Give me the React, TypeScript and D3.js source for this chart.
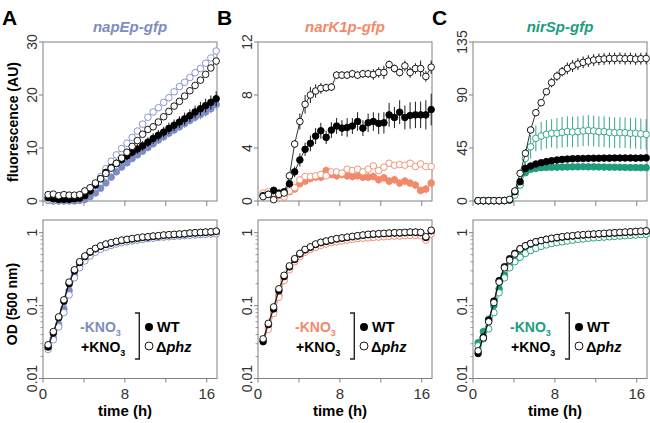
import React from 'react';
import * as d3 from 'd3';

// ---------- data ----------
const times = [0.50, 1.01, 1.53, 2.04, 2.55, 3.07, 3.58, 4.09, 4.60, 5.12, 5.63, 6.14, 6.66, 7.17, 7.68, 8.20, 8.71, 9.22, 9.73, 10.25, 10.76, 11.27, 11.79, 12.30, 12.81, 13.33, 13.84, 14.35, 14.86, 15.38, 15.89, 16.40, 16.92];

const xTicks = [0, 4, 8, 12, 16];
const xTickLabels = ['0', '8', '16'];
const odTicks = [0.01, 0.1, 1];
const odTickLabels = ['0.01', '0.1', '1'];

const panelLetters = ['A', 'B', 'C'];
const panelTitles = ['napEp-gfp', 'narK1p-gfp', 'nirSp-gfp'];
const panelColors = ['#7d8cc2', '#f2896b', '#1d9c7e'];
const fluMax = [30, 12, 135];
const fluTicks = [[0, 10, 20, 30], [0, 4, 8, 12], [0, 45, 90, 135]];

// Panel A fluorescence
const aFluWtMinus = [0.1, 0.0, 0.0, 0.0, 0.0, 0.0, 0.1, 0.3, 0.8, 1.5, 2.4, 3.4, 4.5, 5.5, 6.4, 7.2, 8.0, 8.7, 9.4, 10.1, 10.8, 11.5, 12.1, 12.8, 13.4, 14.0, 14.6, 15.2, 15.8, 16.3, 16.8, 17.4, 18.2];
const aFluPhzMinus = [0.2, 0.1, 0.1, 0.1, 0.1, 0.2, 0.3, 0.9, 2.0, 3.2, 4.6, 6.1, 7.5, 8.7, 9.9, 10.9, 12.0, 13.2, 14.5, 15.8, 16.8, 17.6, 18.6, 19.5, 20.6, 21.6, 22.4, 23.3, 24.2, 25.0, 26.0, 27.0, 28.3];
const aFluWtPlus = [0.6, 0.4, 0.3, 0.3, 0.3, 0.4, 0.5, 1.0, 1.9, 3.0, 4.2, 5.4, 6.3, 7.1, 7.8, 8.5, 9.2, 9.8, 10.4, 11.1, 11.8, 12.4, 13.0, 13.7, 14.3, 14.9, 15.5, 16.1, 16.8, 17.4, 18.0, 18.6, 19.3];
const aFluPhzPlus = [1.2, 1.3, 1.0, 1.2, 1.1, 1.1, 1.2, 1.9, 2.5, 3.4, 4.2, 5.2, 6.2, 7.1, 8.1, 9.2, 10.3, 11.4, 12.6, 13.5, 14.0, 14.9, 15.9, 16.9, 17.9, 18.8, 19.8, 20.8, 21.8, 22.8, 23.9, 25.1, 26.4];
const aFluWtMinusErr = [0.1, 0.1, 0.1, 0.1, 0.1, 0.1, 0.1, 0.2, 0.3, 0.3, 0.4, 0.4, 0.5, 0.5, 0.5, 0.6, 0.6, 0.6, 0.6, 0.7, 0.7, 0.7, 0.7, 0.8, 0.8, 0.8, 0.8, 0.8, 0.9, 0.9, 0.9, 0.9, 1.0];
const aFluPhzMinusErr = [0.1, 0.1, 0.1, 0.1, 0.1, 0.1, 0.1, 0.2, 0.2, 0.2, 0.3, 0.3, 0.3, 0.3, 0.3, 0.3, 0.3, 0.3, 0.3, 0.3, 0.3, 0.3, 0.3, 0.3, 0.3, 0.3, 0.3, 0.3, 0.3, 0.3, 0.3, 0.3, 0.3];
const aFluWtPlusErr = [0.2, 0.2, 0.2, 0.2, 0.2, 0.2, 0.2, 0.3, 0.4, 0.5, 0.6, 0.6, 0.7, 0.7, 0.8, 0.8, 0.8, 0.9, 0.9, 0.9, 1.0, 1.0, 1.0, 1.1, 1.1, 1.1, 1.2, 1.2, 1.2, 1.3, 1.3, 1.3, 1.4];
const aFluPhzPlusErr = [0.1, 0.1, 0.1, 0.1, 0.1, 0.1, 0.1, 0.2, 0.2, 0.2, 0.2, 0.2, 0.2, 0.2, 0.2, 0.2, 0.2, 0.2, 0.2, 0.2, 0.2, 0.2, 0.2, 0.2, 0.2, 0.2, 0.2, 0.2, 0.2, 0.2, 0.2, 0.2, 0.2];

// Panel B fluorescence
const bFluWtMinus = [0.5, 0.6, 0.5, 0.4, 0.5, 0.7, 0.9, 1.3, 1.5, 1.7, 1.8, 1.8, 2.3, 2.0, 1.9, 2.0, 1.9, 1.85, 1.9, 1.8, 1.8, 1.85, 1.6, 1.75, 1.5, 1.6, 1.35, 1.5, 1.35, 1.2, 0.8, 0.9, 1.35];
const bFluPhzMinus = [0.6, 0.7, 0.6, 0.5, 0.3, 0.75, 1.0, 1.6, 1.85, 1.85, 1.9, 2.0, 1.9, 2.2, 2.2, 2.1, 2.4, 2.3, 2.4, 2.2, 2.4, 2.65, 2.3, 2.55, 2.85, 2.7, 2.75, 2.7, 2.85, 2.6, 2.8, 2.6, 2.6];
const bFluWtPlus = [0.4, 0.5, 0.8, 0.6, 0.7, 1.3, 2.2, 3.1, 3.9, 4.35, 4.9, 5.3, 4.8, 5.35, 5.66, 5.5, 5.55, 5.66, 6.0, 5.5, 5.9, 6.0, 5.85, 5.9, 6.5, 6.3, 6.7, 6.3, 6.45, 6.5, 6.5, 6.5, 6.9];
const bFluPhzPlus = [0.33, 0.5, 0.1, 0.5, 0.6, 1.9, 4.3, 6.0, 7.3, 8.0, 8.3, 8.5, 8.55, 8.6, 9.5, 9.5, 9.5, 9.6, 9.5, 9.6, 9.6, 9.55, 9.7, 9.7, 10.3, 10.0, 9.7, 10.2, 9.7, 10.0, 10.0, 9.4, 10.1];
const bFluWtMinusErr = [0.2, 0.2, 0.2, 0.2, 0.2, 0.2, 0.2, 0.3, 0.3, 0.3, 0.3, 0.3, 0.3, 0.3, 0.3, 0.3, 0.3, 0.3, 0.3, 0.3, 0.3, 0.3, 0.3, 0.3, 0.3, 0.3, 0.3, 0.3, 0.3, 0.3, 0.3, 0.3, 0.3];
const bFluPhzMinusErr = [0.2, 0.2, 0.2, 0.2, 0.2, 0.2, 0.2, 0.2, 0.2, 0.2, 0.2, 0.2, 0.2, 0.2, 0.2, 0.2, 0.2, 0.2, 0.2, 0.2, 0.2, 0.2, 0.2, 0.2, 0.2, 0.2, 0.2, 0.2, 0.2, 0.2, 0.2, 0.2, 0.2];
const bFluWtPlusErr = [0.2, 0.2, 0.3, 0.2, 0.2, 0.3, 0.4, 0.5, 0.5, 0.6, 0.6, 0.6, 0.5, 0.6, 0.6, 0.6, 0.7, 0.6, 0.7, 0.6, 0.7, 0.7, 0.8, 0.8, 0.9, 0.8, 0.9, 0.9, 1.0, 1.0, 1.0, 1.1, 1.2];
const bFluPhzPlusErr = [0.1, 0.1, 0.1, 0.1, 0.1, 0.2, 0.3, 0.6, 0.7, 0.6, 0.5, 0.4, 0.3, 0.3, 0.3, 0.3, 0.3, 0.3, 0.3, 0.3, 0.3, 0.4, 0.4, 0.5, 0.3, 0.3, 0.3, 0.4, 0.4, 0.4, 0.6, 0.4, 0.5];

// Panel C fluorescence
const cFluWtMinus = [0.2, 0.2, 0.2, 0.2, 0.2, 0.3, 0.8, 6, 14, 24, 26.9, 27.7, 28.3, 28.5, 28.6, 28.7, 28.8, 28.9, 29.0, 29.0, 29.1, 29.0, 29.0, 28.9, 28.8, 28.7, 28.7, 28.6, 28.5, 28.4, 28.4, 28.3, 28.3];
const cFluPhzMinus = [0.2, 0.2, 0.2, 0.2, 0.2, 0.3, 0.7, 5, 13.6, 36.2, 46, 53.2, 55.2, 56.6, 57.5, 57.5, 58.3, 58.9, 58.6, 58.9, 59.5, 59.8, 59.5, 58.9, 58.9, 58.3, 58.0, 58.0, 58.0, 57.5, 57.5, 57.0, 56.6];
const cFluWtPlus = [0.3, 0.3, 0.3, 0.3, 0.3, 0.4, 1.0, 7.9, 16.4, 27.7, 29.7, 31.4, 32.5, 33.4, 34.2, 34.8, 35.3, 35.6, 35.9, 36.0, 36.1, 36.2, 36.3, 36.3, 36.4, 36.4, 36.5, 36.5, 36.5, 36.5, 36.4, 36.5, 36.6];
const cFluPhzPlus = [0.3, 0.3, 0.3, 0.3, 0.3, 0.4, 1.4, 8.5, 23.5, 40.5, 60.3, 75, 83.5, 92.8, 100.5, 106, 109.8, 112.6, 114.6, 116.3, 117.7, 118.8, 119.7, 120.3, 120.6, 121, 121, 121.2, 120.8, 121, 120.5, 120.8, 121];
const cFluWtMinusErr = [0, 0, 0, 0, 0, 0, 0.3, 0.5, 1, 1, 1, 1, 1, 1, 1, 1, 1, 1, 1, 1, 1, 1, 1, 1, 1, 1, 1, 1, 1, 1, 1, 1, 1];
const cFluPhzMinusErr = [0, 0, 0, 0, 0, 0, 0.5, 1, 3, 8, 10, 11, 12, 12, 12, 13, 13, 13, 13, 13, 13, 13, 13, 13, 13, 13, 13, 13, 13, 13, 13, 13, 13];
const cFluWtPlusErr = [0, 0, 0, 0, 0, 0, 0.3, 0.5, 1, 1, 1, 1, 1, 1, 1, 1, 1, 1, 1, 1, 1, 1, 1, 1, 1, 1, 1, 1, 1, 1, 1, 1, 1];
const cFluPhzPlusErr = [0, 0, 0, 0, 0, 0, 0.5, 1, 2, 3, 3, 3, 3, 3, 4, 4, 4, 5, 5, 5, 5, 5, 5, 5, 5, 5, 5, 5, 5, 5, 5, 5, 5];

// OD (500 nm)
const aOdWtMinus = [0.026, 0.036, 0.055, 0.09, 0.16, 0.26, 0.35, 0.43, 0.50, 0.56, 0.61, 0.65, 0.68, 0.71, 0.74, 0.76, 0.78, 0.80, 0.82, 0.84, 0.85, 0.87, 0.88, 0.89, 0.90, 0.91, 0.92, 0.93, 0.94, 0.95, 0.96, 0.97, 0.98];
const aOdPhzMinus = [0.025, 0.034, 0.051, 0.08, 0.14, 0.24, 0.33, 0.41, 0.48, 0.54, 0.59, 0.63, 0.67, 0.70, 0.73, 0.75, 0.77, 0.79, 0.81, 0.83, 0.84, 0.86, 0.87, 0.88, 0.89, 0.90, 0.91, 0.92, 0.93, 0.94, 0.95, 0.96, 0.97];
const aOdWtPlus = [0.027, 0.042, 0.068, 0.115, 0.20, 0.30, 0.39, 0.47, 0.54, 0.60, 0.65, 0.69, 0.72, 0.75, 0.78, 0.80, 0.82, 0.84, 0.86, 0.87, 0.89, 0.90, 0.92, 0.93, 0.94, 0.95, 0.96, 0.98, 0.99, 1.0, 1.01, 1.02, 1.04];
const aOdPhzPlus = [0.029, 0.044, 0.070, 0.12, 0.21, 0.31, 0.40, 0.48, 0.55, 0.61, 0.66, 0.70, 0.73, 0.76, 0.79, 0.81, 0.83, 0.85, 0.87, 0.88, 0.90, 0.91, 0.93, 0.94, 0.95, 0.96, 0.97, 0.99, 1.00, 1.01, 1.02, 1.03, 1.05];

const bOdWtMinus = [0.033, 0.050, 0.082, 0.14, 0.23, 0.32, 0.41, 0.48, 0.55, 0.60, 0.64, 0.68, 0.71, 0.74, 0.76, 0.78, 0.80, 0.82, 0.84, 0.85, 0.86, 0.87, 0.88, 0.89, 0.90, 0.91, 0.91, 0.92, 0.93, 0.93, 0.92, 0.81, 0.97];
const bOdPhzMinus = [0.034, 0.047, 0.078, 0.13, 0.22, 0.31, 0.40, 0.47, 0.54, 0.59, 0.63, 0.67, 0.70, 0.73, 0.75, 0.77, 0.79, 0.81, 0.83, 0.84, 0.85, 0.86, 0.87, 0.88, 0.89, 0.90, 0.90, 0.91, 0.92, 0.92, 0.91, 0.79, 0.96];
const bOdWtPlus = [0.032, 0.055, 0.09, 0.16, 0.25, 0.34, 0.43, 0.51, 0.58, 0.63, 0.69, 0.73, 0.76, 0.79, 0.82, 0.84, 0.86, 0.88, 0.90, 0.92, 0.94, 0.95, 0.96, 0.97, 0.98, 0.99, 0.99, 1.0, 1.01, 1.01, 1.0, 0.86, 1.06];
const bOdPhzPlus = [0.035, 0.057, 0.096, 0.17, 0.26, 0.35, 0.44, 0.52, 0.59, 0.64, 0.70, 0.74, 0.77, 0.80, 0.83, 0.85, 0.87, 0.89, 0.91, 0.93, 0.95, 0.96, 0.97, 0.98, 0.99, 1.0, 1.0, 1.01, 1.02, 1.02, 1.01, 0.88, 1.08];

const cOdWtMinus = [0.031, 0.044, 0.065, 0.10, 0.17, 0.26, 0.34, 0.41, 0.47, 0.53, 0.58, 0.62, 0.66, 0.69, 0.72, 0.74, 0.76, 0.78, 0.80, 0.82, 0.83, 0.85, 0.86, 0.87, 0.88, 0.89, 0.90, 0.91, 0.92, 0.93, 0.94, 0.95, 0.96];
const cOdPhzMinus = [0.028, 0.035, 0.048, 0.08, 0.15, 0.24, 0.33, 0.40, 0.46, 0.52, 0.57, 0.61, 0.65, 0.68, 0.71, 0.73, 0.75, 0.77, 0.79, 0.81, 0.82, 0.84, 0.85, 0.86, 0.87, 0.88, 0.89, 0.90, 0.91, 0.92, 0.93, 0.94, 0.95];
const cOdWtPlus = [0.022, 0.037, 0.063, 0.115, 0.22, 0.34, 0.44, 0.52, 0.60, 0.66, 0.71, 0.75, 0.78, 0.81, 0.83, 0.85, 0.87, 0.89, 0.90, 0.92, 0.93, 0.94, 0.95, 0.96, 0.97, 0.98, 0.99, 1.0, 1.01, 1.02, 1.03, 1.04, 1.05];
const cOdPhzPlus = [0.024, 0.036, 0.06, 0.11, 0.21, 0.33, 0.42, 0.51, 0.60, 0.66, 0.71, 0.75, 0.78, 0.81, 0.84, 0.86, 0.88, 0.90, 0.91, 0.93, 0.94, 0.95, 0.96, 0.97, 0.98, 0.99, 1.0, 1.01, 1.02, 1.03, 1.04, 1.05, 1.06];

// ---------- layout ----------
const FONT = "'Liberation Sans', Arial, Helvetica, sans-serif";
const PANEL_STEP = 215;
const PLOT_LEFT = 43;
const PLOT_W = 174;
const TOP_Y0 = 42, TOP_Y1 = 201;
const BOT_Y0 = 220, BOT_Y1 = 378.5;
const R = 3.3;

type Series = { values: number[]; err?: number[]; color: string; filled: boolean };

const fluSets = [
  [aFluWtMinus, aFluPhzMinus, aFluWtPlus, aFluPhzPlus],
  [bFluWtMinus, bFluPhzMinus, bFluWtPlus, bFluPhzPlus],
  [cFluWtMinus, cFluPhzMinus, cFluWtPlus, cFluPhzPlus],
];
const fluErrSets = [
  [aFluWtMinusErr, aFluPhzMinusErr, aFluWtPlusErr, aFluPhzPlusErr],
  [bFluWtMinusErr, bFluPhzMinusErr, bFluWtPlusErr, bFluPhzPlusErr],
  [cFluWtMinusErr, cFluPhzMinusErr, cFluWtPlusErr, cFluPhzPlusErr],
];
const odSets = [
  [aOdWtMinus, aOdPhzMinus, aOdWtPlus, aOdPhzPlus],
  [bOdWtMinus, bOdPhzMinus, bOdWtPlus, bOdPhzPlus],
  [cOdWtMinus, cOdPhzMinus, cOdWtPlus, cOdPhzPlus],
];

function SeriesMarks({ s, x, y }: { s: Series; x: d3.ScaleLinear<number, number>; y: any }) {
  const line = d3.line<number>().x((_, i) => x(times[i])).y((v) => y(v));
  return (
    <g>
      <path d={line(s.values) || ''} fill="none" stroke={s.color} strokeWidth={0.8} />
      {s.err && s.values.map((v, i) => (
        s.err![i] > 0 ? <line key={'e' + i} x1={x(times[i])} x2={x(times[i])} y1={y(v - s.err![i])} y2={y(v + s.err![i])} stroke={s.color} strokeWidth={0.9} /> : null
      ))}
      {s.values.map((v, i) => (
        <circle key={i} cx={x(times[i])} cy={y(v)} r={R} fill={s.filled ? s.color : '#fff'} stroke={s.color} strokeWidth={0.9} />
      ))}
    </g>
  );
}

function Panel({ p }: { p: number }) {
  const off = p * PANEL_STEP;
  const color = panelColors[p];
  const x = d3.scaleLinear().domain([0, 17]).range([off + PLOT_LEFT, off + PLOT_LEFT + PLOT_W]);
  const yF = d3.scaleLinear().domain([0, fluMax[p]]).range([TOP_Y1, TOP_Y0]);
  const yO = d3.scaleLog().domain([0.01, 1.493]).range([BOT_Y1, BOT_Y0]);
  const colorsBy = [color, color, '#000', '#000'];
  const filledBy = [true, false, true, false];
  const flu: Series[] = fluSets[p].map((v, k) => ({ values: v, err: fluErrSets[p][k], color: colorsBy[k], filled: filledBy[k] }));
  const od: Series[] = odSets[p].map((v, k) => ({ values: v, color: colorsBy[k], filled: filledBy[k] }));
  const left = off + PLOT_LEFT;
  const right = off + PLOT_LEFT + PLOT_W;
  const minor: number[] = [];
  [0.01, 0.1, 1].forEach((d) => { for (let m = 2; m <= 9; m++) { const v = d * m; if (v <= 1.493) minor.push(v); } });
  const lx = off; // legend offset
  return (
    <g fontFamily={FONT}>
      <text x={off + 2} y={25} fontSize={21} fontWeight="bold">{panelLetters[p]}</text>
      <text x={(left + right) / 2} y={32} fontSize={15} fontWeight="bold" fontStyle="italic" fill={color} textAnchor="middle">{panelTitles[p]}</text>

      {/* top plot */}
      <rect x={left} y={TOP_Y0} width={PLOT_W} height={TOP_Y1 - TOP_Y0} fill="none" stroke="#808080" strokeWidth={1} />
      {fluTicks[p].map((t) => (
        <g key={t}>
          <line x1={left - 4} x2={left} y1={yF(t)} y2={yF(t)} stroke="#808080" />
          <text transform={`translate(${left - 6.5},${yF(t)}) rotate(-90)`} textAnchor="middle" fontSize={14} fill="#333">{t}</text>
        </g>
      ))}
      {xTicks.map((t) => (
        <line key={t} x1={x(t)} x2={x(t)} y1={TOP_Y1} y2={TOP_Y1 + 5} stroke="#808080" />
      ))}
      <g clipPath={`url(#clipTop${p})`}>
        {flu.map((s, k) => <SeriesMarks key={k} s={s} x={x} y={yF} />)}
      </g>

      {/* bottom plot */}
      <rect x={left} y={BOT_Y0} width={PLOT_W} height={BOT_Y1 - BOT_Y0} fill="none" stroke="#808080" strokeWidth={1} />
      {odTicks.map((t, i) => (
        <g key={t}>
          <line x1={left - 4} x2={left} y1={yO(t)} y2={yO(t)} stroke="#808080" />
          <text transform={`translate(${left - 6.5},${yO(t)}) rotate(-90)`} textAnchor="middle" fontSize={14} fill="#333">{odTickLabels[i]}</text>
        </g>
      ))}
      {minor.map((t) => (
        <line key={t} x1={left - 2.5} x2={left} y1={yO(t)} y2={yO(t)} stroke="#808080" strokeWidth={0.8} />
      ))}
      {xTicks.map((t) => (
        <line key={t} x1={x(t)} x2={x(t)} y1={BOT_Y1} y2={BOT_Y1 + 4} stroke="#808080" />
      ))}
      {[0, 8, 16].map((t, i) => (
        <text key={t} x={x(t)} y={398.5} textAnchor="middle" fontSize={15} fill="#333">{xTickLabels[i]}</text>
      ))}
      <text x={(left + right) / 2 - 5} y={415.5} textAnchor="middle" fontSize={15} fontWeight="bold">time (h)</text>
      <g clipPath={`url(#clipBot${p})`}>
        {od.map((s, k) => <SeriesMarks key={k} s={s} x={x} y={yO} />)}
      </g>

      {/* legend */}
      <text x={lx + 80} y={331.5} fontSize={14} fontWeight="bold" fill={color}>-KNO<tspan fontSize={9} dy={4}>3</tspan></text>
      <text x={lx + 81} y={351.5} fontSize={14} fontWeight="bold" fill="#000">+KNO<tspan fontSize={9} dy={4}>3</tspan></text>
      <path d={`M${lx + 135},313 H${lx + 139.3} V359 H${lx + 135}`} fill="none" stroke="#222" strokeWidth={1.4} />
      <circle cx={lx + 149} cy={327} r={4} fill="#000" />
      <circle cx={lx + 149} cy={346} r={4} fill="#fff" stroke="#000" strokeWidth={0.9} />
      <text x={lx + 157} y={331.5} fontSize={14.5} fontWeight="bold">WT</text>
      <text x={lx + 156} y={351.5} fontSize={14.5} fontWeight="bold">Δ<tspan fontStyle="italic">phz</tspan></text>

      <defs>
        <clipPath id={`clipTop${p}`}><rect x={left - 5} y={TOP_Y0 - 5} width={PLOT_W + 10} height={TOP_Y1 - TOP_Y0 + 10} /></clipPath>
        <clipPath id={`clipBot${p}`}><rect x={left - 5} y={BOT_Y0 - 5} width={PLOT_W + 10} height={BOT_Y1 - BOT_Y0 + 10} /></clipPath>
      </defs>
    </g>
  );
}

export default function App() {
  return (
    <svg width={650} height={423} style={{ position: 'absolute', left: 0, top: 0, background: '#fff' }}>
      <text transform="translate(17.5,122) rotate(-90)" textAnchor="middle" fontSize={14} fontWeight="bold" fontFamily={FONT}>fluorescence (AU)</text>
      <text transform="translate(17,304) rotate(-90)" textAnchor="middle" fontSize={14} fontWeight="bold" fontFamily={FONT}>OD (500 nm)</text>
      {[0, 1, 2].map((p) => <Panel key={p} p={p} />)}
    </svg>
  );
}
